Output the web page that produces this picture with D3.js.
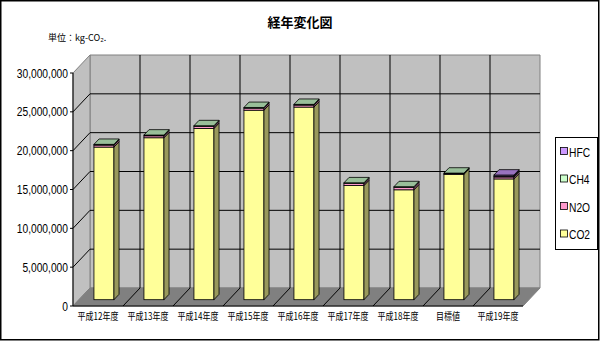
<!DOCTYPE html>
<html>
<head>
<meta charset="utf-8">
<script src="https://cdn.jsdelivr.net/npm/d3@7"></script>
<style>
  body { margin: 0; background: #fff; }
  svg { display: block; }
</style>
</head>
<body>
<script>
const categories = ["平成12年度", "平成13年度", "平成14年度", "平成15年度", "平成16年度", "平成17年度", "平成18年度", "目標値", "平成19年度"];
const co2 = [19650000, 20850000, 22050000, 24400000, 24800000, 14700000, 14150000, 16150000, 15550000];
const n2o = [250000, 250000, 250000, 250000, 250000, 250000, 300000, 50000, 250000];
const ch4 = [100000, 100000, 100000, 100000, 100000, 100000, 100000, 100000, 100000];
const hfc = [0, 0, 0, 0, 0, 0, 0, 0, 150000];
const yTicks = [0, 5000000, 10000000, 15000000, 20000000, 25000000, 30000000];
const seriesNames = ["HFC", "CH4", "N2O", "CO2"];

const W = 600, H = 341;
const dx = 17, dy = 18;          // depth offset of the 3D box
const d0 = 0.35, d1 = 0.65;      // bar depth (front/back) as fraction of box depth

const colors = { co2: "#ffff99", n2o: "#ff99cc", ch4: "#ccffcc", hfc: "#cc99ff" };
const legendColors = { HFC: "#cc99ff", CH4: "#ccffcc", N2O: "#ff99cc", CO2: "#ffff99" };
const narrow = "'Liberation Sans', Arial, sans-serif";

const svg = d3.select("body").append("svg")
    .attr("width", W)
    .attr("height", H);

const x = d3.scaleBand()
    .domain(categories)
    .range([73, 523]);

const y = d3.scaleLinear()
    .domain([0, 30000000])
    .range([306, 73]);

function proj(px, v, d) {
    return [px + d * dx, y(v) - d * dy];
}
function pts(arr) {
    return arr.map(function(p) { return p.join(","); }).join(" ");
}

// walls and floor
svg.append("polygon")
    .attr("points", pts([proj(73, 30000000, 1), proj(523, 30000000, 1), proj(523, 0, 1), proj(73, 0, 1)]))
    .attr("fill", "#c0c0c0").attr("stroke", "#808080");
svg.append("polygon")
    .attr("points", pts([proj(73, 0, 0), proj(73, 30000000, 0), proj(73, 30000000, 1), proj(73, 0, 1)]))
    .attr("fill", "#c0c0c0").attr("stroke", "#808080");
svg.append("polygon")
    .attr("points", pts([proj(73, 0, 0), proj(523, 0, 0), proj(523, 0, 1), proj(73, 0, 1)]))
    .attr("fill", "#808080").attr("stroke", "#808080");

// horizontal gridlines (back wall + side wall)
const inner = yTicks.filter(function(t) { return t > 0 && t < 30000000; });
inner.forEach(function(t) {
    const a = proj(73, t, 0), b = proj(73, t, 1), c = proj(523, t, 1);
    svg.append("polyline")
        .attr("points", pts([a, b, c]))
        .attr("fill", "none").attr("stroke", "#000").attr("stroke-width", 1);
});

// vertical gridlines at category boundaries
categories.slice(1).forEach(function(c) {
    const bx = x(c);
    svg.append("polyline")
        .attr("points", pts([proj(bx, 0, 0), proj(bx, 0, 1), proj(bx, 30000000, 1)]))
        .attr("fill", "none").attr("stroke", "#000").attr("stroke-width", 1);
});

// axes
svg.append("line")
    .attr("x1", 73).attr("x2", 73).attr("y1", y(30000000)).attr("y2", y(0))
    .attr("stroke", "#000");
svg.append("line")
    .attr("x1", 73).attr("x2", 523).attr("y1", y(0)).attr("y2", y(0))
    .attr("stroke", "#000");

svg.selectAll(".ytick").data(yTicks).enter().append("line")
    .attr("x1", 70).attr("x2", 73)
    .attr("y1", function(d) { return y(d); }).attr("y2", function(d) { return y(d); })
    .attr("stroke", "#000");

svg.selectAll(".ylabel").data(yTicks).enter().append("text")
    .attr("transform", function(d) { return "translate(68," + (y(d) + 4.5) + ") scale(0.82,1)"; })
    .attr("text-anchor", "end")
    .attr("font-family", narrow)
    .attr("font-size", 12.5)
    .text(function(d) { return d3.format(",")(d); });

// stacked 3D bars
const rows = categories.map(function(c, i) {
    return { cat: c, co2: co2[i], n2o: n2o[i], ch4: ch4[i], hfc: hfc[i] };
});
const keys = ["co2", "n2o", "ch4", "hfc"];
const stacked = d3.stack().keys(keys)(rows);

const barW = 20;

function shade(col, k) {
    const c = d3.rgb(col);
    return d3.rgb(c.r * k, c.g * k, c.b * k).toString();
}

rows.forEach(function(r, i) {
    const x0 = x(r.cat) + (x.bandwidth() - barW) / 2;
    const x1 = x0 + barW;
    const g = svg.append("g");
    let topKey = null, topVal = 0;
    stacked.forEach(function(s) {
        const v0 = s[i][0], v1 = s[i][1];
        if (v1 - v0 <= 0) return;
        const col = colors[s.key];
        const f0 = proj(x0, v1, d0), f1 = proj(x1, v0, d0);
        g.append("rect")
            .attr("x", f0[0]).attr("y", f0[1])
            .attr("width", f1[0] - f0[0]).attr("height", f1[1] - f0[1])
            .attr("fill", col).attr("stroke", "#000").attr("stroke-width", 0.8);
        g.append("polygon")
            .attr("points", pts([proj(x1, v0, d0), proj(x1, v1, d0), proj(x1, v1, d1), proj(x1, v0, d1)]))
            .attr("fill", shade(col, 0.6)).attr("stroke", "#000").attr("stroke-width", 0.8);
        topKey = s.key; topVal = v1;
    });
    if (topKey) {
        g.append("polygon")
            .attr("points", pts([proj(x0, topVal, d0), proj(x1, topVal, d0), proj(x1, topVal, d1), proj(x0, topVal, d1)]))
            .attr("fill", shade(colors[topKey], 0.75)).attr("stroke", "#000").attr("stroke-width", 0.8);
    }
});

// category labels
svg.selectAll(".xlabel").data(categories).enter().append("text")
    .attr("transform", function(d) { return "translate(" + (x(d) + x.bandwidth() / 2) + ",320) scale(0.8,1)"; })
    .attr("text-anchor", "middle")
    .attr("font-family", "'Noto Sans CJK JP', sans-serif")
    .attr("font-size", 10)
    .text(function(d) { return d; });

// title
svg.append("text")
    .attr("x", 300).attr("y", 27)
    .attr("text-anchor", "middle")
    .attr("font-family", "'Noto Sans CJK JP', sans-serif")
    .attr("font-size", 13)
    .attr("font-weight", "bold")
    .text("経年変化図");

svg.append("text")
    .attr("x", 48).attr("y", 41)
    .attr("font-family", "'Noto Sans CJK JP', sans-serif")
    .attr("font-size", 9)
    .text("単位：kg-CO₂.");

// legend
const lg = svg.append("g");
lg.append("rect")
    .attr("x", 555.5).attr("y", 137.5).attr("width", 42).attr("height", 112)
    .attr("fill", "#fff").attr("stroke", "#000");
seriesNames.forEach(function(n, i) {
    const cy = 152 + i * 27.5;
    lg.append("rect")
        .attr("x", 560.5).attr("y", cy - 4.5).attr("width", 7).attr("height", 7)
        .attr("fill", legendColors[n]).attr("stroke", "#000").attr("stroke-width", 0.8);
    lg.append("text")
        .attr("transform", "translate(569," + (cy + 4.5) + ") scale(0.82,1)")
        .attr("font-family", narrow)
        .attr("font-size", 12.5)
        .text(n);
});

// outer frame
svg.append("rect")
    .attr("x", 0.75).attr("y", 0.75).attr("width", 598).attr("height", 339)
    .attr("fill", "none").attr("stroke", "#000").attr("stroke-width", 1.5);
</script>
</body>
</html>
